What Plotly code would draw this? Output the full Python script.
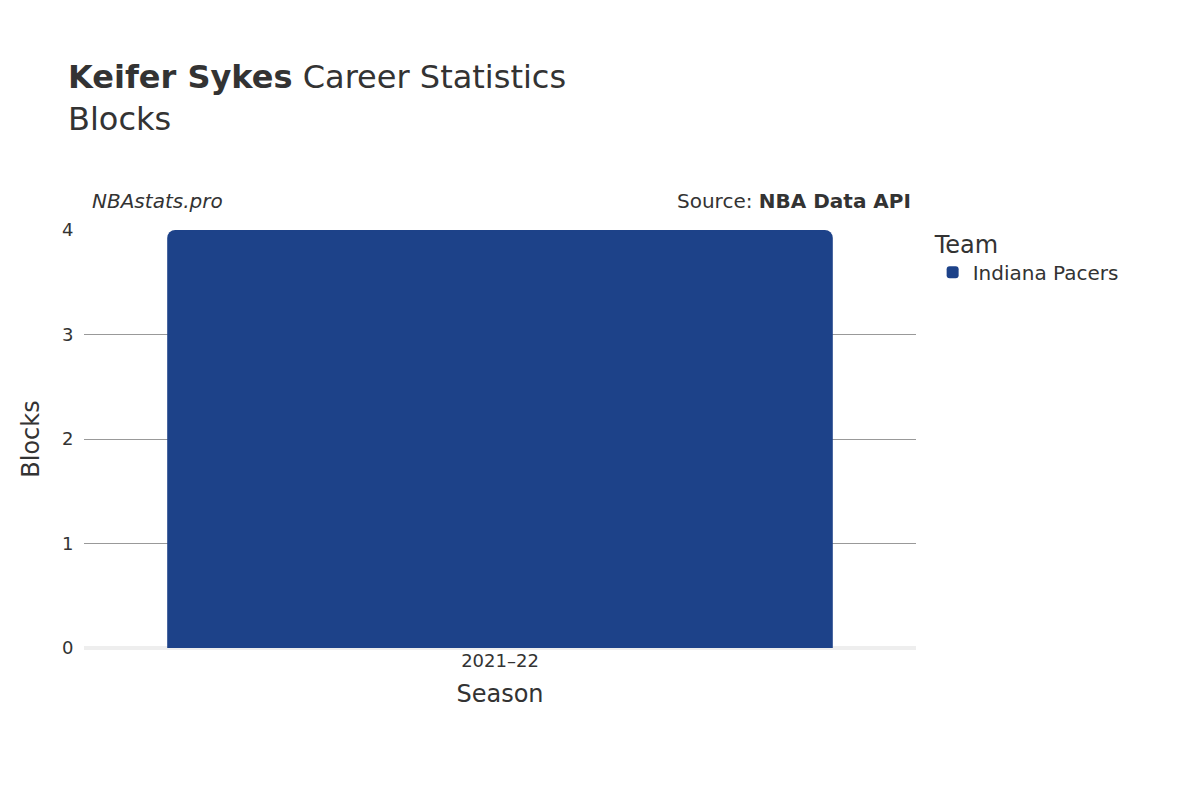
import plotly.graph_objects as go

seasons = ["2021–22"]
blocks = [4]
team = "Indiana Pacers"

fig = go.Figure(go.Bar(x=seasons, y=blocks, name=team, marker_color="#1d4289",
                       marker_line_width=0, width=0.8, showlegend=True))
fig.update_layout(
    width=1200, height=800,
    font=dict(family="DejaVu Sans", color="#333", size=18),
    paper_bgcolor="white", plot_bgcolor="white",
    margin=dict(l=76, r=292, t=222, b=160),
    barcornerradius=8,
    title=dict(text="<b>Keifer Sykes</b> Career Statistics<br>Blocks", x=0.05, xanchor="left",
               y=0.9, yanchor="top", font=dict(size=32)),
    xaxis=dict(title=dict(text="Season", font=dict(size=24)), showgrid=False),
    yaxis=dict(title=dict(text="Blocks", font=dict(size=24)), range=[0, 4], dtick=1,
               gridcolor="#999", zeroline=True, zerolinecolor="#eee", zerolinewidth=4,
               ticks="outside", tickcolor="white", ticklen=6),
    legend=dict(title=dict(text="Team", font=dict(size=24)), x=1.02, y=1.02, yanchor="top",
                font=dict(size=20)),
    annotations=[
        dict(text="<i>NBAstats.pro</i>", x=0.007, y=1.035, xref="paper", yref="paper",
             xanchor="left", yanchor="bottom", showarrow=False, font=dict(size=20)),
        dict(text="Source: <b>NBA Data API</b>", x=0.996, y=1.035, xref="paper", yref="paper",
             xanchor="right", yanchor="bottom", showarrow=False, font=dict(size=20)),
    ],
)
fig.write_html("out.html")
